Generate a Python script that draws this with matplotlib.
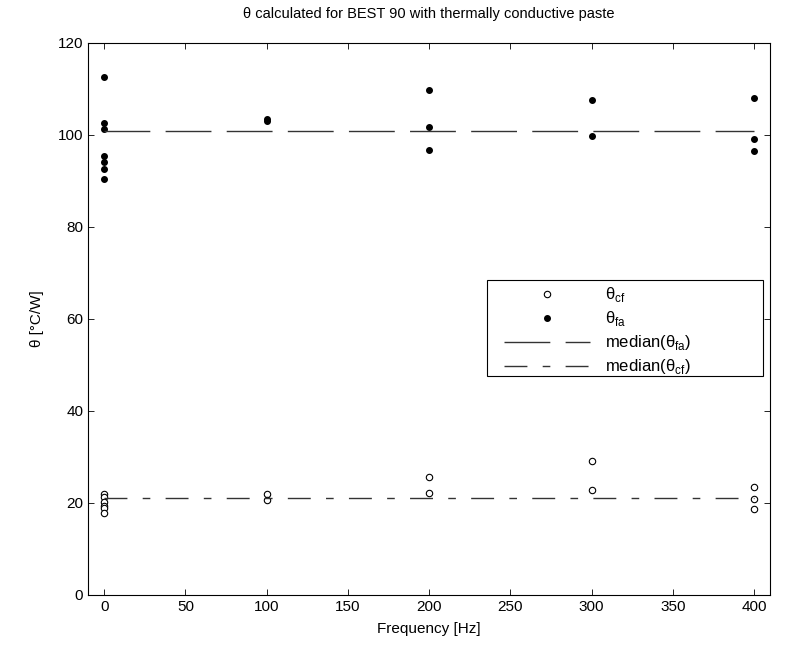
import matplotlib
matplotlib.use("Agg")
import matplotlib.pyplot as plt
from matplotlib.patches import Rectangle

plt.rcParams['font.family'] = ['Liberation Sans', 'DejaVu Sans']
plt.rcParams['font.size'] = 11
plt.rcParams['mathtext.fontset'] = 'custom'
plt.rcParams['mathtext.rm'] = 'Liberation Sans'

# Data
freq_cf = [0, 0, 0, 0, 0, 0, 100, 100, 200, 200, 300, 300, 400, 400, 400]
theta_cf = [22.0, 21.2, 20.2, 19.4, 18.8, 17.8, 22.0, 20.5, 25.6, 22.1, 29.1, 22.8, 23.5, 20.8, 18.6]
freq_fa = [0, 0, 0, 0, 0, 0, 0, 100, 100, 200, 200, 200, 300, 300, 400, 400, 400]
theta_fa = [112.6, 102.5, 101.3, 95.5, 94.0, 92.6, 90.3, 103.5, 103.1, 109.8, 101.7, 96.8, 107.6, 99.8, 108.0, 99.0, 96.5]
median_fa = 100.8
median_cf = 21.1
line_x = [0, 400]

xticks = [0, 50, 100, 150, 200, 250, 300, 350, 400]
yticks = [0, 20, 40, 60, 80, 100, 120]

fig = plt.figure(figsize=(7.86, 6.5), dpi=100)
ax = fig.add_axes([0.112, 0.085, 0.868, 0.849])

ax.plot(freq_cf, theta_cf, linestyle='none', marker='o', markersize=4.6,
        markerfacecolor='white', markeredgecolor='black', markeredgewidth=0.8,
        label=r'θ$_\mathrm{cf}$')
ax.plot(freq_fa, theta_fa, linestyle='none', marker='o', markersize=4.0,
        markerfacecolor='black', markeredgecolor='black',
        label=r'θ$_\mathrm{fa}$')
l1, = ax.plot(line_x, [median_fa, median_fa], color='#333333', linewidth=1.0,
              label=r'median(θ$_\mathrm{fa}$)')
l1.set_dashes([33, 11])
l2, = ax.plot(line_x, [median_cf, median_cf], color='#333333', linewidth=1.0,
              label=r'median(θ$_\mathrm{cf}$)')
l2.set_dashes([16.5, 11, 5.5, 11])

ax.set_xlim(-10, 410)
ax.set_ylim(0, 120)
ax.set_xticks(xticks)
ax.set_yticks(yticks)
ax.tick_params(direction='in', top=True, right=True, length=4, width=0.6, labelsize=11)
for s in ax.spines.values():
    s.set_linewidth(0.8)

ax.set_title('θ calculated for BEST 90 with thermally conductive paste', fontsize=10.5, pad=18)
ax.set_xlabel('Frequency [Hz]', fontsize=11, labelpad=6)
ax.set_ylabel('θ [°C/W]', fontsize=11, labelpad=10)

# legend box (MATLAB style, wider than its content)
ax.add_patch(Rectangle((0.585, 0.397), 0.405, 0.174, transform=ax.transAxes,
                       facecolor='white', edgecolor='black', linewidth=0.8, zorder=4))
leg = ax.legend(loc='center left', bbox_to_anchor=(0.609, 0.478), handlelength=5.2,
                frameon=False, borderpad=0, borderaxespad=0,
                labelspacing=0.3, handletextpad=0.9, fontsize=12)
leg.set_zorder(5)

fig.savefig('out.png', dpi=100)
